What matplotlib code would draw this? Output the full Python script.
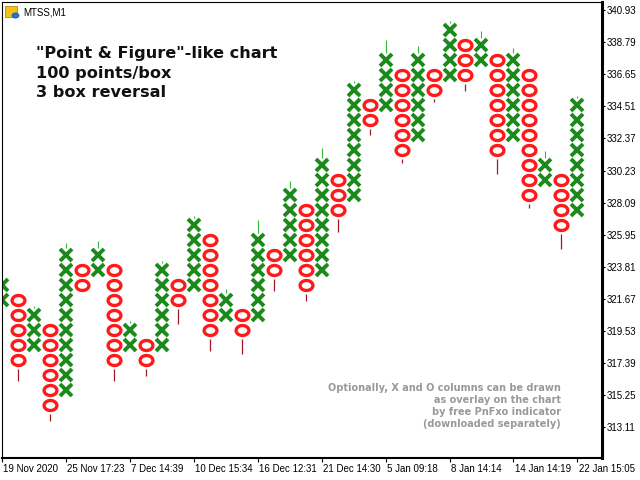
import numpy as np
import matplotlib
matplotlib.use('Agg')
import matplotlib.pyplot as plt
import matplotlib.transforms as mtrans
from matplotlib.path import Path
from matplotlib.patches import Rectangle, Circle

# P&F columns, box = 1.00 (100 points), box centres
box_size = 1.0
col_types = ['X', 'O'] * 18 + ['X']
col_top = [322.6, 321.6, 320.6, 319.6, 324.6, 323.6, 324.6, 323.6, 319.6, 318.6,
           323.6, 322.6, 326.6, 325.6, 321.6, 320.6, 325.6, 324.6, 328.6, 327.6,
           330.6, 329.6, 335.6, 334.6, 337.6, 336.6, 337.6, 336.6, 339.6, 338.6,
           338.6, 337.6, 337.6, 336.6, 330.6, 329.6, 334.6]
col_bottom = [321.6, 317.6, 318.6, 314.6, 315.6, 322.6, 323.6, 317.6, 318.6, 317.6,
              318.6, 321.6, 322.6, 319.6, 320.6, 319.6, 320.6, 323.6, 324.6, 322.6,
              323.6, 327.6, 328.6, 333.6, 334.6, 331.6, 332.6, 335.6, 336.6, 336.6,
              337.6, 331.6, 332.6, 328.6, 329.6, 326.6, 327.6]
# high of X column / low of O column (thin lines)
col_extreme = [None, 316.2, 321.1, 313.5, 325.4, None, 325.5, 316.2, 320.1, 316.5,
               324.2, 320.0, 327.2, 318.2, 322.3, 318.0, 326.9, 322.2, 329.5, 321.5,
               331.7, 326.1, 336.2, 332.6, 338.9, 330.7, 338.5, 334.8, 340.1, 335.5,
               339.5, 330.0, 338.4, 327.7, 331.5, 325.0, 335.2]

date_ticks = [0, 4, 8, 12, 16, 20, 24, 28, 32, 36]
date_labels = ['19 Nov 2020', '25 Nov 17:23', '7 Dec 14:39', '10 Dec 15:34', '16 Dec 12:31',
               '21 Dec 14:30', '5 Jan 09:18', '8 Jan 14:14', '14 Jan 14:19', '22 Jan 15:05']
price_ticks = [313.11, 315.25, 317.39, 319.53, 321.67, 323.81, 325.95,
               328.09, 330.23, 332.37, 334.51, 336.65, 338.79, 340.93]

x_color = '#1b8a1b'
o_color = '#ff1a1a'
x_wick = '#33bb33'
o_wick = '#a01820'

fig = plt.figure(figsize=(6.4, 4.8), dpi=100)
ax = fig.add_axes([1.5 / 640, 22 / 480, 600 / 640, 456.5 / 480])

# ellipse marker for O
t = np.linspace(0, 2 * np.pi, 64)
o_marker = Path(np.column_stack([np.cos(t), 0.78 * np.sin(t)]), closed=True)

xx, xy, ox, oy = [], [], [], []
for i, kind in enumerate(col_types):
    boxes = np.arange(col_bottom[i], col_top[i] + box_size / 2, box_size)
    if kind == 'X':
        xx += [i] * len(boxes)
        xy += list(boxes)
        if col_extreme[i] is not None:
            y0 = col_top[i] + 0.48
            ax.vlines(i, y0, max(col_extreme[i], y0 + 0.13), color=x_wick, lw=0.8)
    else:
        ox += [i] * len(boxes)
        oy += list(boxes)
        if col_extreme[i] is not None:
            y0 = col_bottom[i] - 0.58
            ax.vlines(i, min(col_extreme[i], y0 - 0.13), y0, color=o_wick, lw=0.9)

ax.plot(xx, xy, ls='none', marker='x', ms=8.8, mew=2.8, color=x_color)
ax.plot(ox, oy, ls='none', marker=o_marker, ms=9.2, mew=2.4, mfc='none', mec=o_color)

ax.set_xlim(-0.03, 37.51)
ax.set_ylim(311.06, 341.50)

ax.yaxis.tick_right()
ax.set_yticks(price_ticks)
ax.set_yticklabels(['%.2f' % p for p in price_ticks], family='Liberation Sans', fontsize=7)
ax.set_xticks(date_ticks)
ax.set_xticklabels(date_labels, family='Liberation Sans', fontsize=7, ha='left')
ax.tick_params(axis='y', length=2.5, width=0.8, pad=1.5)
ax.tick_params(axis='x', length=3, width=0.8, pad=1.5)
offset = mtrans.ScaledTranslation(1.5 / 100, 0, fig.dpi_scale_trans)
for lab in ax.get_xticklabels():
    lab.set_transform(lab.get_transform() + offset)

ax.spines['left'].set_linewidth(0.8)
ax.spines['top'].set_linewidth(0.8)
ax.spines['right'].set_linewidth(2.2)
ax.spines['bottom'].set_linewidth(1.5)

# header with symbol icon
fig.patches.append(Rectangle((5 / 640, 1 - 17 / 480), 12 / 640, 11 / 480, transform=fig.transFigure,
                             facecolor='#f2c31b', edgecolor='#b8860b', lw=0.6))
fig.patches.append(Circle((15.5 / 640, 1 - 15.5 / 480), 3.5 / 640, transform=fig.transFigure,
                          facecolor='#2a6fd6', edgecolor='#1a4fa0', lw=0.5))
fig.text(23 / 640, 1 - 15.5 / 480, 'MTSS,M1', family='Liberation Sans', fontsize=7, va='baseline')

big_lines = ['"Point & Figure"-like chart', '100 points/box', '3 box reversal']
for line, yb in zip(big_lines, [58.3, 78.3, 96.7]):
    fig.text(36 / 640, 1 - yb / 480, line, fontsize=11.6, fontweight='bold',
             family='DejaVu Sans', va='baseline', color='#111111')

note_lines = ['Optionally, X and O columns can be drawn', 'as overlay on the chart',
              'by free PnFxo indicator', '(downloaded separately)']
for line, yb in zip(note_lines, [391, 402.8, 415, 426.7]):
    fig.text(561 / 640, 1 - yb / 480, line, fontsize=7, fontweight='bold',
             family='DejaVu Sans', ha='right', va='baseline', color='#999999')

fig.savefig('out.png', dpi=100)
